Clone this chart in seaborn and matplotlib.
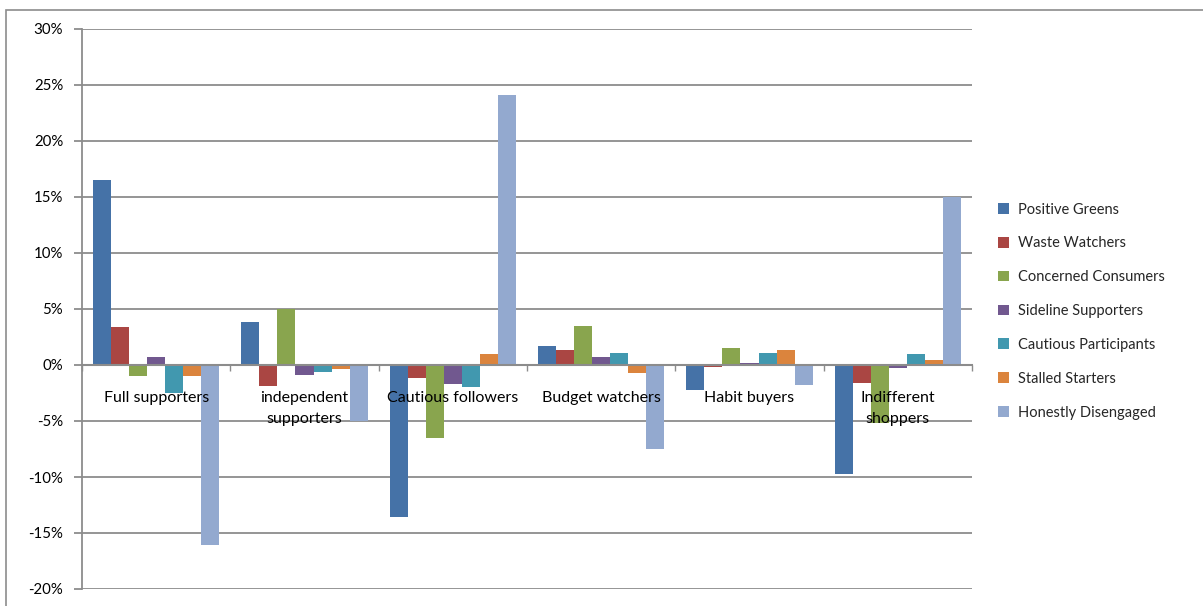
import matplotlib
matplotlib.use("Agg")
import matplotlib.pyplot as plt
import matplotlib.patches as mpatches
from matplotlib.ticker import FixedLocator, FuncFormatter
import numpy as np
import pandas as pd
import seaborn as sns

# Segment categories along the x axis
categories = [
    "Full supporters",
    "independent\nsupporters",
    "Cautious followers",
    "Budget watchers",
    "Habit buyers",
    "Indifferent\nshoppers",
]

# Consumer segments (series)
segments = [
    "Positive Greens",
    "Waste Watchers",
    "Concerned Consumers",
    "Sideline Supporters",
    "Cautious Participants",
    "Stalled Starters",
    "Honestly Disengaged",
]

# Percentage-point differences per category, one list per segment
positive_greens = [16.5, 3.8, -13.6, 1.7, -2.2, -9.7]
waste_watchers = [3.4, -1.9, -1.2, 1.3, -0.2, -1.6]
concerned_consumers = [-1.0, 5.0, -6.5, 3.5, 1.5, -5.2]
sideline_supporters = [0.7, -0.9, -1.7, 0.7, 0.15, -0.25]
cautious_participants = [-2.5, -0.65, -2.0, 1.05, 1.05, 0.95]
stalled_starters = [-1.0, -0.4, 1.0, -0.7, 1.3, 0.45]
honestly_disengaged = [-16.1, -5.0, 24.1, -7.5, -1.8, 15.0]

series = [
    positive_greens, waste_watchers, concerned_consumers, sideline_supporters,
    cautious_participants, stalled_starters, honestly_disengaged,
]

palette = ["#4572A7", "#AA4643", "#89A54E", "#71588F", "#4198AF", "#DB843D", "#93A9CF"]

rows = []
for seg, vals in zip(segments, series):
    for cat, v in zip(categories, vals):
        rows.append({"category": cat, "segment": seg, "value": v})
df = pd.DataFrame(rows)

sns.set_theme(style="white")
plt.rcParams["font.family"] = ["Lato", "DejaVu Sans"]

W, H = 1203, 606
fig = plt.figure(figsize=(W / 100, H / 100), dpi=100)
ax = fig.add_axes([82 / W, 1 - 589 / H, (972 - 82) / W, (589 - 29) / H])

sns.barplot(
    data=df, x="category", y="value", hue="segment",
    order=categories, hue_order=segments, palette=palette,
    width=0.85, saturation=1, errorbar=None, linewidth=0, ax=ax,
)

grid_c = "#8C8C8C"
ax.set_ylim(-20, 30)
ax.set_xlim(-0.5, len(categories) - 0.5)
ax.yaxis.set_major_locator(FixedLocator(np.arange(-20, 31, 5)))
ax.yaxis.set_major_formatter(FuncFormatter(lambda v, p: f"{int(round(v))}%"))
ax.yaxis.grid(True, color=grid_c, linewidth=1.3)
ax.set_axisbelow(True)
# category labels sit on top of the bars
ax.xaxis.set_zorder(4)

for side in ("top", "right"):
    ax.spines[side].set_visible(False)
ax.spines["left"].set_color(grid_c)
ax.spines["left"].set_linewidth(1.3)
ax.spines["bottom"].set_position(("data", 0))
ax.spines["bottom"].set_color(grid_c)
ax.spines["bottom"].set_linewidth(1.5)
ax.spines["bottom"].set_zorder(3)

ax.tick_params(axis="y", which="major", direction="out", length=5.5, width=1.3,
               color=grid_c, left=True, pad=8, labelsize=10.8, labelcolor="#000000")
ax.set_xticks(range(len(categories)))
ax.set_xticklabels(categories, linespacing=1.6)
ax.tick_params(axis="x", which="major", length=0, pad=19, labelsize=11.5,
               labelcolor="#000000")
ax.xaxis.set_minor_locator(FixedLocator(np.arange(-0.5, len(categories), 1.0)))
ax.tick_params(axis="x", which="minor", direction="out", length=4, width=1.0,
               color=grid_c, bottom=True)
ax.set_xlabel("")
ax.set_ylabel("")

# Legend at the right, square swatches
handles = [mpatches.Patch(facecolor=c, edgecolor="none") for c in palette]
ax.legend(
    handles, segments, loc="center left", bbox_to_anchor=(998 / W, 1 - 311 / H),
    bbox_transform=fig.transFigure, frameon=False, fontsize=10.5,
    handlelength=0.75, handleheight=0.75, handletextpad=0.6, labelspacing=1.36,
    borderaxespad=0, borderpad=0,
)

# Outer chart frame
fig.patches.append(mpatches.Rectangle(
    (6 / W, -0.2), 1.2, 1.2 - 10 / H, transform=fig.transFigure,
    fill=False, edgecolor=grid_c, linewidth=1.2, zorder=0,
))

fig.savefig("out.png", dpi=100)
